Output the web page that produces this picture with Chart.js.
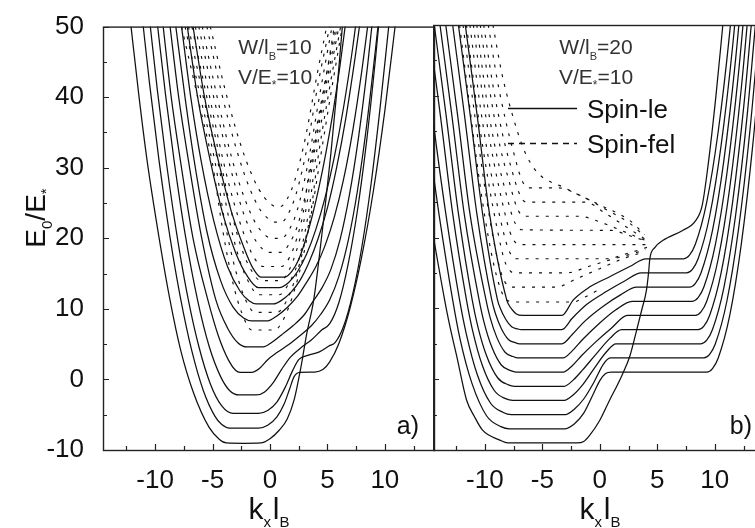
<!DOCTYPE html>
<html>
<head>
<meta charset="utf-8">
<title>E0/E* vs k_x l_B</title>
<script src="https://cdn.jsdelivr.net/npm/chart.js@4.4.1/dist/chart.umd.min.js"></script>
<style>
  html, body { margin: 0; padding: 0; background: #fff; overflow: hidden; }
  #wrap { position: relative; width: 755px; height: 528px; overflow: hidden; }
  #panelA { position: absolute; left: 0; top: 0; }
  #panelB { position: absolute; left: 433px; top: 0; }
</style>
</head>
<body>
<div id="wrap">
  <canvas id="panelA" width="436" height="528"></canvas>
  <canvas id="panelB" width="345" height="528"></canvas>
</div>
<script>
// axis ticks
const yTicks = [-10, 0, 10, 20, 30, 40, 50];
const yMinor = [-5, 5, 15, 25, 35, 45];
const xTicks = [-10, -5, 0, 5, 10];
const xMinor = [-12.5, -7.5, -2.5, 2.5, 7.5, 12.5];

// a) W/lB=10 : spin-le bands, [k lB, E0/E*]
const aLe = [
  [[-12.1,50],[-11.4,40],[-10.7,31],[-9.65,20],[-8.7,11.2],[-7.8,4.3],[-6.7,-1.7],[-5.3,-6.8],[-4.4,-8.5],[-3.8,-9],[-2.3,-9.05],[-0.8,-9],[0,-8.4],[0.8,-7.2],[1.5,-5.6],[2.1,-2.9],[2.7,1.8],[3.2,6.5],[3.8,11.2],[4.3,17.5],[4.8,24.5],[5.3,32],[5.8,40.5],[6.3,50]],
  [[-11.1,51],[-10.5,42.1],[-9.7,31.5],[-8.7,20.1],[-7.8,11.6],[-6.8,4.0],[-5.8,-1.6],[-4.8,-5.2],[-4.2,-6.4],[-3.5,-6.9],[-1.0,-6.9],[-0.2,-6.5],[0.6,-5.3],[1.2,-3.6],[1.7,-1.4],[2.1,0.4],[2.6,1.0],[3.9,1.05],[4.6,1.4],[5.2,2.5],[6.0,5.1],[7.0,10.3],[8.0,17.5],[9.0,26.7],[10.0,38.1],[11.0,51.5]],
  [[-10.5,51.2],[-9.8,40.9],[-9.0,30.5],[-8.0,19.4],[-7.1,11.2],[-6.2,4.7],[-5.2,-0.6],[-4.2,-3.75],[-3.2,-4.8],[-1.0,-4.8],[-0.2,-4.4],[0.6,-3.2],[1.3,-1.2],[1.9,1.0],[2.5,2.8],[3.3,3.4],[4.3,3.9],[5.1,4.7],[5.7,5.3],[6.4,7.5],[7.2,12.1],[8.0,18.8],[8.8,27.7],[9.6,38.7],[10.4,51]],
  [[-9.8,50.3],[-9.1,40.4],[-8.35,31],[-7.4,20.7],[-6.3,11.2],[-5.3,4.7],[-4.3,0.4],[-3.5,-1.6],[-2.7,-2.2],[-1.2,-2.2],[-0.5,-1.8],[0.3,-0.4],[1.0,1.4],[1.8,3.2],[2.7,4.5],[3.6,5.6],[4.5,7.0],[5.2,7.9],[6.0,10.9],[6.8,16.3],[7.6,23.8],[8.4,33.6],[9.2,45.7],[9.8,56]],
  [[-9.3,50],[-8.6,40],[-7.8,31],[-6.7,20],[-5.4,11.2],[-4.5,6.2],[-3.6,2.7],[-3.0,1.3],[-2.6,1.0],[-1.6,1.0],[-0.9,1.6],[-0.2,2.8],[0.6,3.8],[1.6,4.9],[2.6,6.2],[3.6,7.6],[4.4,9.2],[5.2,11.3],[6.0,14.6],[6.8,19.6],[7.6,26.6],[8.4,35.8],[9.2,47],[9.6,53]],
  [[-8.7,50],[-7.95,40],[-7.1,31],[-6.0,20.5],[-4.7,11.2],[-3.7,7.3],[-2.8,5.2],[-2.0,4.6],[-0.6,4.6],[0.2,5.3],[1.0,6.3],[2.0,7.6],[3.0,9.2],[3.8,11.2],[4.5,12.9],[5.3,15.6],[6.1,19.8],[6.9,26],[7.7,34.2],[8.5,44.5],[8.9,50.5]],
  [[-8.2,50],[-7.4,40],[-6.6,31],[-5.5,21],[-4.3,14],[-3.2,10.2],[-2.3,8.7],[-1.6,8.3],[-0.2,8.3],[0.6,9.0],[1.5,10.2],[2.4,11.8],[3.2,13.8],[4.0,16.0],[4.8,19.0],[5.6,23],[6.4,28.3],[7.2,35.2],[8.0,43.8],[8.5,50]],
  [[-7.7,50],[-6.9,40],[-6.0,31],[-4.9,22.5],[-3.7,16],[-2.6,12.5],[-1.8,11.1],[-1.2,10.7],[0.3,10.7],[1.0,11.2],[1.8,12.3],[2.6,14.0],[3.4,16.6],[4.2,20],[5.0,24.3],[5.8,30],[6.6,37],[7.4,45.5],[8.0,52.5]],
  [[-7.2,50],[-6.3,40],[-5.2,31],[-4.1,23.4],[-3.0,18],[-2.0,14.7],[-1.0,13.0],[0.8,13.0],[1.6,13.7],[2.4,15.3],[3.2,17.8],[4.0,21.3],[4.8,25.8],[5.6,31.5],[6.4,38.5],[7.2,47],[7.6,52]],
  [[-6.7,50],[-5.7,40],[-4.5,31],[-3.4,24],[-2.3,18.8],[-1.5,15.8],[-0.8,14.5],[1.3,14.5],[1.9,15.3],[2.5,17],[3.1,19.8],[3.7,23.3],[4.3,27.5],[4.9,32.4],[5.5,38],[6.1,44.5],[6.7,52]]
];

// a) spin-fel bands
const aFel = [
  [[-7.7,50],[-6.3,40],[-5.0,30.5],[-4.1,21],[-3.2,13.5],[-2.4,9.2],[-1.6,7.0],[0.4,7.0],[1.2,8.6],[2.1,12.5],[2.9,17.5],[3.6,23.5],[4.3,30.5],[5.2,39.5],[6.3,50]],
  [[-7.4,50],[-6.05,40],[-4.75,30.5],[-3.9,22],[-3.0,15.5],[-2.1,11.2],[-1.3,9.5],[0.6,9.5],[1.4,11],[2.2,14.3],[3.0,19.2],[3.6,24.2],[4.1,30.5],[5.05,40],[6.15,50]],
  [[-7.1,50],[-5.8,40],[-4.5,30.5],[-3.6,23],[-2.7,17.2],[-1.8,13.6],[-1.0,12],[0.8,12],[1.6,13.5],[2.4,16.4],[3.0,20.5],[3.5,25.2],[3.9,30.5],[4.9,40.5],[6.0,50]],
  [[-6.8,50],[-5.5,40],[-4.25,30.5],[-3.4,24],[-2.5,18.7],[-1.6,15.4],[-0.8,14],[0.9,14],[1.6,15.3],[2.3,18.2],[2.9,22],[3.3,25.8],[3.7,30.5],[4.75,40.5],[5.85,50]],
  [[-6.5,50],[-5.25,40],[-4.0,30.5],[-3.1,24.8],[-2.2,20.3],[-1.4,17.3],[-0.6,16],[1.0,16],[1.7,17.3],[2.3,19.8],[2.9,23.7],[3.5,30.5],[4.6,40.5],[5.7,50]],
  [[-6.2,50],[-4.9,40],[-3.6,31],[-2.5,24.5],[-1.5,20.4],[-0.6,18.4],[0.0,18],[1.0,18],[1.7,19.3],[2.4,21.8],[3.0,25.5],[3.6,30.5],[4.6,40],[5.6,50]],
  [[-5.9,50],[-4.6,40],[-3.3,31.2],[-2.2,25.6],[-1.2,22],[-0.3,20.3],[0.2,20],[1.0,20],[1.7,21.3],[2.3,23.6],[2.9,27.4],[3.4,31.5],[4.4,41],[5.4,50]],
  [[-5.5,50],[-4.2,40.5],[-2.9,32.5],[-1.8,27.2],[-0.8,23.9],[0.1,22.5],[0.4,22.3],[1.0,22.3],[1.6,23.5],[2.2,25.9],[2.8,29.6],[3.3,33.5],[4.2,42],[5.2,50]],
  [[-5.2,50],[-3.9,41],[-2.6,33.5],[-1.5,28.7],[-0.5,25.8],[0.3,24.6],[0.5,24.5],[0.9,24.5],[1.5,25.6],[2.1,27.9],[2.7,31.5],[3.2,35.2],[4.1,43.2],[5.0,50.5]]
];

// b) W/lB=20 : spin-le bands
const bLe = [
  [[-17,50],[-15.9,36],[-14.8,23.4],[-13.5,11.2],[-13.1,7.9],[-12.4,2.9],[-11.6,-2.9],[-10.9,-5.3],[-10.2,-7.2],[-8.7,-8.6],[-8.0,-9],[-2.0,-9],[-1.4,-8.8],[-0.87,-7.9],[0,-5.8],[0.87,-2.9],[1.45,-1.07],[2.0,0.8],[2.6,3.2],[3.2,6.9],[3.65,9.8],[4.06,12.6],[4.25,15.2],[4.35,17.0],[4.8,18.6],[5.5,19.6],[7.2,21.0],[8.3,22.3],[8.9,24.5],[9.4,30],[10.1,40],[10.7,50]],
  [[-16.2,50],[-15.1,36],[-14.0,23.4],[-12.8,11.2],[-12.16,5.7],[-11.12,-0.6],[-9.84,-5.2],[-8.6,-6.7],[-7.86,-7],[-3.0,-7],[-2.2,-6.3],[-1.4,-4.8],[-0.6,-2.2],[0.0,-0.2],[0.5,0.8],[1.0,1.0],[9.3,1.0],[9.8,1.5],[10.3,3],[11.3,9],[12.3,19],[13.3,33],[14.3,51]],
  [[-15.5,50],[-14.5,36.5],[-13.4,23.4],[-12.2,11.2],[-11.6,6.3],[-10.67,0.7],[-9.5,-3.4],[-8.4,-4.7],[-7.7,-5],[-3.0,-5],[-2.2,-4.2],[-1.4,-2.8],[-0.5,-0.4],[0.3,2.1],[0.9,3.0],[1.5,3.0],[9.05,3.0],[9.55,3.5],[10.05,5],[11.05,11],[12.05,21],[13.05,35],[14.05,53]],
  [[-14.9,50],[-13.85,37],[-12.8,23.4],[-11.6,11.2],[-11.07,6.9],[-10.23,2.0],[-9.18,-1.6],[-8.2,-2.75],[-7.57,-3],[-3.1,-3],[-2.3,-2.2],[-1.5,-0.8],[-0.5,1.5],[0.6,3.9],[1.4,5.0],[2.0,5.0],[8.8,5.0],[9.3,5.5],[9.8,7],[10.8,13],[11.8,23],[12.8,37],[13.8,55]],
  [[-14.4,50],[-13.35,37],[-12.3,23.4],[-11.1,11.2],[-10.62,7.5],[-9.85,3.3],[-8.89,0.2],[-7.95,-0.8],[-7.42,-1],[-3.1,-1],[-2.3,-0.1],[-1.5,1.3],[-0.4,3.4],[0.9,5.8],[1.9,7],[2.5,7],[8.55,7],[9.05,7.5],[9.55,9],[10.55,15],[11.55,25],[12.55,39],[13.55,57]],
  [[-13.9,50],[-12.85,37],[-11.8,23.4],[-10.5,11.2],[-10.08,8.1],[-9.41,4.6],[-8.57,2.0],[-7.75,1.2],[-7.28,1],[-3.2,1],[-2.4,1.9],[-1.6,3.3],[-0.4,5.2],[1.0,7.2],[2.4,9.0],[3.0,9.0],[8.3,9.0],[8.8,9.5],[9.3,11],[10.3,17],[11.3,27],[12.3,41],[13.3,59]],
  [[-13.4,50],[-12.35,37],[-11.3,23.4],[-9.9,11.2],[-9.54,8.7],[-8.96,5.9],[-8.24,3.8],[-7.55,3.2],[-7.14,3],[-3.2,3],[-2.4,4.0],[-1.5,5.6],[-0.1,7.8],[1.4,9.8],[2.8,11],[3.4,11],[8.05,11],[8.55,11.5],[9.05,13],[10.05,19],[11.05,29],[12.05,43],[13.05,61]],
  [[-12.8,50],[-11.75,37],[-10.7,23.4],[-9.4,11.2],[-9.09,9.3],[-8.58,7.2],[-7.95,5.6],[-7.35,5.15],[-6.99,5],[-3.3,5],[-2.4,6.3],[-1.3,8.2],[0.3,10.3],[1.8,11.9],[3.2,13],[3.8,13],[7.8,13],[8.3,13.5],[8.8,15],[9.8,21],[10.8,31],[11.8,45],[12.8,63]],
  [[-12.3,50],[-11.25,37],[-10.2,23.4],[-8.9,11.2],[-8.63,9.9],[-8.2,8.5],[-7.67,7.4],[-7.15,7.1],[-6.85,7],[-3.3,7],[-2.4,8.6],[-1.1,10.6],[0.6,12.4],[2.2,13.9],[3.6,15],[4.2,15],[7.55,15],[8.05,15.5],[8.55,17],[9.55,23],[10.55,33],[11.55,47],[12.55,65]],
  [[-11.7,50],[-10.65,37],[-9.6,23.4],[-8.1,11.2],[-7.92,10.5],[-7.62,9.8],[-7.26,9.2],[-6.7,9],[-3.3,9],[-2.3,11.2],[-0.9,13.0],[0.9,14.5],[2.6,15.9],[4.0,17.0],[4.5,17.0],[7.3,17],[7.8,17.5],[8.3,19],[9.3,25],[10.3,35],[11.3,49],[12.3,67]]
];

// b) spin-fel bands
const bFel = [
  [[-12.2,50],[-11.2,37],[-10.2,25],[-9.2,16],[-8.4,11.8],[-7.9,11.0],[-7.5,10.9],[-2.3,10.9],[-1.3,11.6],[0.0,12.7]],
  [[-11.9,50],[-10.9,37.5],[-9.95,26.5],[-9.1,18.5],[-8.5,14.6],[-8.0,13.2],[-7.6,13.0],[-3.8,13.0],[-2.0,14.2],[0,15.6],[2.0,17.0],[3.9,18.0]],
  [[-11.6,50],[-10.65,38],[-9.7,28],[-8.9,21],[-8.3,16.8],[-7.8,15.3],[-7.4,15.0],[-2.9,15.0],[-1.0,15.9],[1.0,16.9],[2.6,17.6],[4.0,18.3]],
  [[-11.3,50],[-10.4,38.5],[-9.45,29],[-8.65,22.6],[-8.05,18.8],[-7.6,17.3],[-7.2,17.0],[0.6,17.0],[2.3,17.7],[4.1,18.6]],
  [[-11.0,50],[-10.1,39],[-9.2,30.5],[-8.4,24.4],[-7.8,20.7],[-7.35,19.3],[-7.0,19.0],[1.5,19.0],[2.8,19.0],[4.2,19.0]],
  [[-10.7,50],[-9.85,39.5],[-8.95,31.5],[-8.15,26.2],[-7.55,22.7],[-7.1,21.4],[-6.8,21.1],[1.0,21.0],[2.5,20.3],[4.2,19.4]],
  [[-10.4,50],[-9.55,40.5],[-8.7,33],[-7.9,28],[-7.3,24.6],[-6.9,23.3],[-6.6,23.0],[-1.8,23.0],[0,22.2],[2.0,20.9],[4.1,19.5]],
  [[-10.1,50],[-9.3,41.5],[-8.45,34.5],[-7.7,29.8],[-7.1,26.6],[-6.7,25.3],[-6.4,25.0],[-1.2,25.0],[0.3,23.6],[2.2,21.6],[4.0,19.7]],
  [[-9.7,50],[-8.95,42.5],[-8.15,36.2],[-7.45,31.7],[-6.9,28.6],[-6.5,27.3],[-6.2,27.0],[-3.6,27.0],[-1.8,26.0],[0.5,24.0],[2.6,22.0],[3.95,20.1]],
  [[-9.3,50],[-8.5,43],[-7.6,37.3],[-6.6,32.4],[-5.5,29.3],[-2.9,26.9],[0,24.6],[2.6,22.4],[3.9,20.4]]
];

const FONT = "'Liberation Sans', Arial, Helvetica, sans-serif";
const INK = '#111';

function curve(pts, dashed) {
  return {
    data: pts.map(p => ({ x: p[0], y: p[1] })),
    showLine: true,
    borderColor: INK,
    borderWidth: dashed ? 1.15 : 1.25,
    borderDash: dashed ? [3, 7] : [],
    pointRadius: 0,
    fill: false,
    cubicInterpolationMode: 'monotone'
  };
}

// text with subscript pieces: [text, size, dy]
function rich(ctx, parts, x, y, align) {
  let w = 0;
  parts.forEach(p => { ctx.font = p[1] + 'px ' + FONT; w += ctx.measureText(p[0]).width; });
  let cx = align === 'center' ? x - w / 2 : (align === 'right' ? x - w : x);
  ctx.textAlign = 'left';
  ctx.textBaseline = 'alphabetic';
  parts.forEach(p => {
    ctx.font = p[1] + 'px ' + FONT;
    ctx.fillText(p[0], cx, y + (p[2] || 0));
    cx += ctx.measureText(p[0]).width;
  });
}

// box around the plot area plus inward ticks
const framePlugin = {
  id: 'frame',
  afterDatasetsDraw(chart) {
    const { ctx, chartArea: a, scales } = chart;
    ctx.save();
    ctx.strokeStyle = '#222';
    ctx.lineWidth = 1.4;
    ctx.strokeRect(a.left + 0.5, a.top + 0.5, a.right - a.left, a.bottom - a.top);
    ctx.lineWidth = 1.2;
    ctx.beginPath();
    yTicks.concat(yMinor).forEach(v => {
      const py = Math.round(scales.y.getPixelForValue(v)) + 0.5;
      const len = yTicks.includes(v) ? 6 : 4;
      ctx.moveTo(a.left, py); ctx.lineTo(a.left + len, py);
    });
    xTicks.concat(xMinor).forEach(v => {
      const px = Math.round(scales.x.getPixelForValue(v)) + 0.5;
      const len = xTicks.includes(v) ? 6 : 4;
      ctx.moveTo(px, a.bottom); ctx.lineTo(px, a.bottom - len);
    });
    ctx.stroke();
    ctx.restore();
  }
};

function xTitle(ctx, cx) {
  rich(ctx, [['k', 30], ['x', 15, 8], [' ', 6], ['l', 30], ['B', 15, 8]], cx, 519, 'center');
}

const labelsA = {
  id: 'labelsA',
  afterDraw(chart) {
    const ctx = chart.ctx;
    ctx.save();
    ctx.fillStyle = INK;
    xTitle(ctx, 269);
    // rotated y title
    ctx.save();
    ctx.translate(45, 218);
    ctx.rotate(-Math.PI / 2);
    rich(ctx, [['E', 28], ['0', 15, 7], ['/E', 28], ['*', 15, 6]], 0, 0, 'center');
    ctx.restore();
    ctx.fillStyle = '#333';
    rich(ctx, [['W/l', 21], ['B', 11, 6], ['=10', 21]], 275, 54, 'center');
    rich(ctx, [['V/E', 21], ['*', 12, 5], ['=10', 21]], 275, 84, 'center');
    ctx.fillStyle = INK;
    rich(ctx, [['a)', 25]], 419, 434, 'right');
    ctx.restore();
  }
};

const labelsB = {
  id: 'labelsB',
  afterDraw(chart) {
    const ctx = chart.ctx;
    ctx.save();
    ctx.fillStyle = INK;
    xTitle(ctx, 167);
    ctx.fillStyle = '#333';
    rich(ctx, [['W/l', 21], ['B', 11, 6], ['=20', 21]], 163, 54, 'center');
    rich(ctx, [['V/E', 21], ['*', 12, 5], ['=10', 21]], 163, 84, 'center');
    // legend
    ctx.strokeStyle = INK;
    ctx.lineWidth = 1.3;
    ctx.beginPath(); ctx.moveTo(75, 108.5); ctx.lineTo(144, 108.5); ctx.stroke();
    ctx.setLineDash([6, 5]);
    ctx.beginPath(); ctx.moveTo(75, 143.5); ctx.lineTo(144, 143.5); ctx.stroke();
    ctx.setLineDash([]);
    ctx.fillStyle = INK;
    rich(ctx, [['Spin-le', 26]], 154, 118, 'left');
    rich(ctx, [['Spin-fel', 26]], 154, 153, 'left');
    rich(ctx, [['b)', 25]], 319, 434, 'right');
    ctx.restore();
  }
};

function xScale() {
  return {
    type: 'linear', min: -14.54, max: 14.28,
    grid: { display: false }, border: { display: false },
    afterBuildTicks: s => { s.ticks = xTicks.map(v => ({ value: v })); },
    afterFit: s => { s.height = 78; },
    ticks: { font: { family: FONT, size: 26 }, color: INK, padding: 7, maxRotation: 0, autoSkip: false, callback: v => String(v) }
  };
}

new Chart(document.getElementById('panelA'), {
  type: 'scatter',
  data: { datasets: aLe.map(c => curve(c, false)).concat(aFel.map(c => curve(c, true))) },
  options: {
    responsive: false, animation: false, events: [],
    layout: { padding: { left: 0, top: 25, right: 2, bottom: 0 } },
    plugins: { legend: { display: false }, tooltip: { enabled: false } },
    scales: {
      x: xScale(),
      y: {
        type: 'linear', min: -10, max: 50,
        grid: { display: false }, border: { display: false },
        afterBuildTicks: s => { s.ticks = yTicks.map(v => ({ value: v })); },
        afterFit: s => { s.width = 103; },
        ticks: { font: { family: FONT, size: 26 }, color: INK, padding: 11, callback: v => String(v) }
      }
    }
  },
  plugins: [framePlugin, labelsA]
});

new Chart(document.getElementById('panelB'), {
  type: 'scatter',
  data: { datasets: bLe.map(c => curve(c, false)).concat(bFel.map(c => curve(c, true))) },
  options: {
    responsive: false, animation: false, events: [],
    layout: { padding: { left: 0, top: 25, right: 14, bottom: 0 } },
    plugins: { legend: { display: false }, tooltip: { enabled: false } },
    scales: {
      x: Object.assign(xScale(), { min: -14.51 }),
      y: { type: 'linear', min: -10, max: 50, display: false }
    }
  },
  plugins: [framePlugin, labelsB]
});
</script>
</body>
</html>
